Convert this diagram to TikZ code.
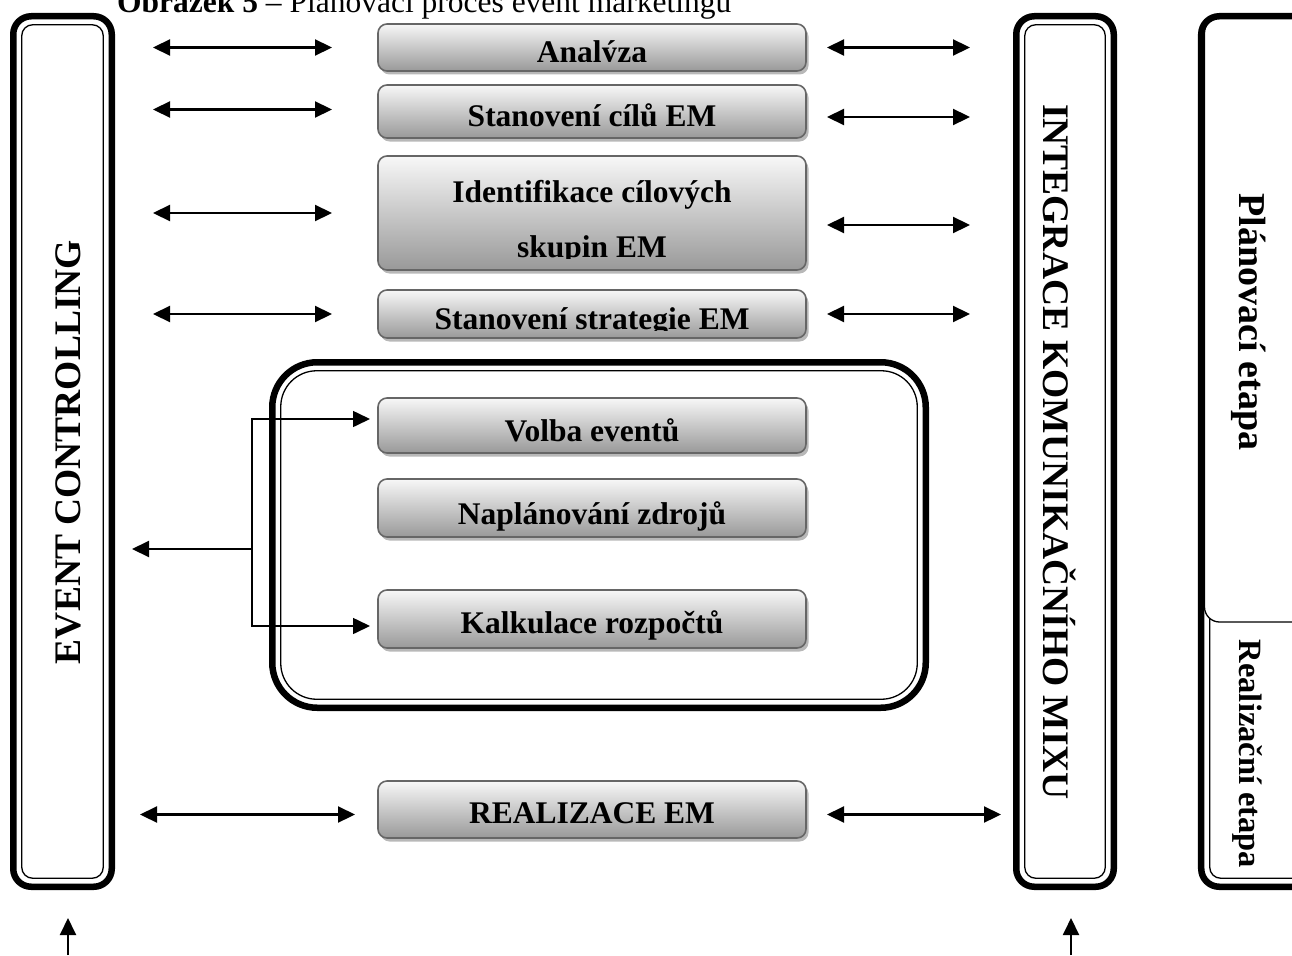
\documentclass[tikz,border=0pt]{standalone}
\usepackage{fontspec}
\setmainfont{Liberation Serif}
\usetikzlibrary{arrows.meta,calc,shadows}
\definecolor{boxtop}{rgb}{0.97,0.97,0.97}
\definecolor{boxbot}{rgb}{0.60,0.60,0.60}
\definecolor{boxline}{rgb}{0.40,0.40,0.40}
\definecolor{shadowc}{rgb}{0.72,0.72,0.72}
\newcommand\cliptext[5]{%
  \begin{scope}
    \clip ($(#2.north west)$) rectangle ($(#2.south east)+(0,-#4)$);
    \node[mtext] (#1) at ($(#2.south)+(0,-#3)$) {#5};
  \end{scope}}
\begin{document}
\begin{tikzpicture}[x=1pt,y=-1pt,
  outerbox/.style={draw, line width=6.5pt, rounded corners=18pt, inner sep=0pt, outer sep=0pt},
  innerline/.style={line width=1.3pt, rounded corners=11pt},
  mbox/.style={draw=boxline, line width=1.6pt, rounded corners=9pt, top color=boxtop, bottom color=boxbot, minimum width=428pt, inner sep=0pt, outer sep=0pt, drop shadow={shadow xshift=2.5pt, shadow yshift=-3.5pt, fill=shadowc, opacity=1}},
  mtext/.style={font=\bfseries\fontsize{31.5}{55}\selectfont, inner sep=0pt, anchor=base},
  bigtext/.style={font=\bfseries\fontsize{37.5}{40}\selectfont, inner sep=0pt},
  arr/.style={line width=2pt, -{Triangle[length=17pt,width=16pt]}},
  darr/.style={line width=2.2pt, {Triangle[length=17pt,width=16pt]}-{Triangle[length=17pt,width=16pt]}}
]
\clip (0,0) rectangle (1292,955);
% title
\node[anchor=base west, inner sep=0pt, font=\fontsize{31.5}{34}\selectfont] (title) at (117,13) {\textbf{Obrázek 5} – Plánovací proces event marketingu};

% left box
\node[outerbox, minimum width=98.5pt, minimum height=870.5pt] (ec) at (62.5,451.5) {};
\draw[innerline] ($(ec.north west)+(8.5,8.5)$) rectangle ($(ec.south east)+(-8.5,-8.5)$);
\node[bigtext, rotate=90] (ect) at (68,452) {EVENT CONTROLLING};

% integration box
\node[outerbox, minimum width=97.5pt, minimum height=870.5pt] (im) at (1065,451.5) {};
\draw[innerline] ($(im.north west)+(8.5,8.5)$) rectangle ($(im.south east)+(-8.5,-8.5)$);
\node[bigtext, rotate=-90] (imt) at (1060,452) {INTEGRACE KOMUNIKAČNÍHO MIXU};

% phases box
\node[outerbox, draw=none, minimum width=118.75pt, minimum height=870.5pt] (et) at (1260.6,451.5) {};
\draw[innerline] ($(et.north west)+(8.5,8.5)$) rectangle ($(et.south east)+(-8.5,-8.5)$);
\node[draw, fill=white, line width=1.3pt, rounded corners=15pt, minimum width=126pt, minimum height=604pt, inner sep=0pt, outer sep=0pt] (pl) at (1267.5,320) {};
\draw[line width=6.5pt, rounded corners=18pt] (et.north west) rectangle (et.south east);
\node[font=\bfseries\fontsize{38}{40}\selectfont, rotate=-90, inner sep=0pt] (plt) at (1249,322) {Plánovací etapa};
\node[font=\bfseries\fontsize{32.5}{36}\selectfont, rotate=-90, inner sep=0pt] (ret) at (1247,754) {Realizační etapa};

% big frame
\node[outerbox, rounded corners=45pt, minimum width=653.5pt, minimum height=345.5pt] (fr) at (599,535) {};
\draw[innerline, rounded corners=36pt] ($(fr.north west)+(8.5,8.5)$) rectangle ($(fr.south east)+(-8.5,-8.5)$);

% middle boxes
\node[mbox, minimum height=47pt] (an) at (592,47.5) {};
\node[mbox, minimum height=53pt] (st) at (592,111.5) {};
\node[mbox, minimum height=114pt] (id) at (592,213) {};
\node[mbox, minimum height=48pt] (sg) at (592,314) {};
\node[mbox, minimum height=55pt] (vo) at (592,425.5) {};
\node[mbox, minimum height=58pt] (na) at (592,508) {};
\node[mbox, minimum height=58pt] (ka) at (592,619) {};
\node[mbox, minimum height=57pt] (re) at (592,809.5) {};

\cliptext{ant}{an}{8}{9}{Analýza}
\cliptext{stt}{st}{12}{11}{Stanovení cílů EM}
\begin{scope}
  \clip (id.north west) rectangle ($(id.south east)+(0,-12)$);
  \node[mtext] (idt1) at ($(id.south)+(0,-68)$) {Identifikace cílových};
  \node[mtext] (idt2) at ($(id.south)+(0,-13)$) {skupin EM};
\end{scope}
\cliptext{sgt}{sg}{9}{8}{Stanovení strategie EM}
\cliptext{vot}{vo}{12}{0}{Volba eventů}
\cliptext{nat}{na}{13}{0}{Naplánování zdrojů}
\cliptext{kat}{ka}{15}{0}{Kalkulace rozpočtů}
\cliptext{ret2}{re}{15}{0}{REALIZACE EM}

% left two-way arrows
\draw[darr, shorten <=41.25pt, shorten >=46pt] (ec.east |- an.west) -- (an.west);
\draw[darr, shorten <=41.25pt, shorten >=46pt] ($(ec.east |- st.west)+(0,-2)$) -- ($(st.west)+(0,-2)$);
\draw[darr, shorten <=41.25pt, shorten >=46pt] (ec.east |- id.west) -- (id.west);
\draw[darr, shorten <=41.25pt, shorten >=46pt] (ec.east |- sg.west) -- (sg.west);
\draw[darr, shorten <=28.25pt, shorten >=23pt] ($(ec.east |- re.west)+(0,5)$) -- ($(re.west)+(0,5)$);
% right two-way arrows
\draw[darr, shorten <=21pt, shorten >=46.25pt] (an.east) -- (an.east -| im.west);
\draw[darr, shorten <=21pt, shorten >=46.25pt] ($(st.east)+(0,5.5)$) -- ($(st.east -| im.west)+(0,5.5)$);
\draw[darr, shorten <=21pt, shorten >=46.25pt] ($(id.east)+(0,12)$) -- ($(id.east -| im.west)+(0,12)$);
\draw[darr, shorten <=21pt, shorten >=46.25pt] (sg.east) -- (sg.east -| im.west);
\draw[darr, shorten <=21pt, shorten >=15.25pt] ($(re.east)+(0,5)$) -- ($(re.east -| im.west)+(0,5)$);

% branching connector
\coordinate (jn) at (252,549);
\draw[arr, shorten >=20.25pt] (jn) -- (jn -| ec.east);
\draw[arr, line width=1.6pt, shorten >=8pt] (jn) |- ($(vo.west)+(0,-6.5)$);
\draw[arr, line width=1.6pt, shorten >=8pt] (jn) |- ($(ka.west)+(0,7)$);

% bottom arrows
\coordinate (b1) at (68,955);
\coordinate (b2) at (1071,955);
\draw[arr, shorten >=31.25pt] (b1) -- (b1 |- ec.south);
\draw[arr, shorten >=31.25pt] (b2) -- (b2 |- im.south);
\end{tikzpicture}
\end{document}
